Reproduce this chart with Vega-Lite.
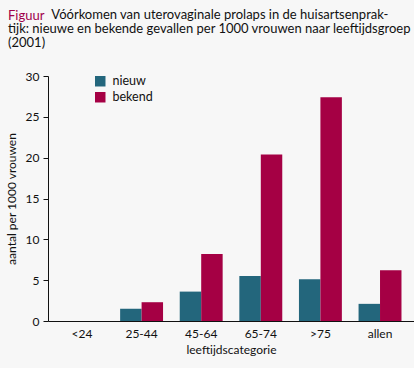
{
  "$schema": "https://vega.github.io/schema/vega-lite/v6.json",
  "autosize": {"type": "none"},
  "padding": {"left": 48, "top": 76, "right": 0, "bottom": 47},
  "width": 366,
  "height": 245,
  "background": "#f7f7f7",
  "title": {
    "text": "Figuur",
    "subtitle": ["\u2800\u2800\u2800\u2800 Vóórkomen van uterovaginale prolaps in de huisartsenprak-", "tijk: nieuwe en bekende gevallen per 1000 vrouwen naar leeftijdsgroep", "(2001)"],
    "anchor": "start",
    "frame": "group",
    "dx": -40,
    "color": "#a0004a",
    "font": "Lato",
    "fontSize": 13,
    "fontWeight": "normal",
    "lineHeight": 14,
    "subtitleColor": "#111111",
    "subtitleFont": "Lato",
    "subtitleFontSize": 13,
    "subtitleLineHeight": 14,
    "subtitlePadding": -14,
    "offset": 19
  },
  "data": {
    "values": [
      {"cat": "<24", "type": "nieuw", "value": 0},
      {"cat": "<24", "type": "bekend", "value": 0},
      {"cat": "25-44", "type": "nieuw", "value": 1.5},
      {"cat": "25-44", "type": "bekend", "value": 2.3},
      {"cat": "45-64", "type": "nieuw", "value": 3.6},
      {"cat": "45-64", "type": "bekend", "value": 8.2},
      {"cat": "65-74", "type": "nieuw", "value": 5.5},
      {"cat": "65-74", "type": "bekend", "value": 20.4},
      {"cat": ">75", "type": "nieuw", "value": 5.1},
      {"cat": ">75", "type": "bekend", "value": 27.4},
      {"cat": "allen", "type": "nieuw", "value": 2.1},
      {"cat": "allen", "type": "bekend", "value": 6.2}
    ]
  },
  "mark": {"type": "bar"},
  "encoding": {
    "x": {
      "field": "cat", "type": "nominal",
      "sort": ["<24", "25-44", "45-64", "65-74", ">75", "allen"],
      "scale": {"paddingInner": 0.28, "paddingOuter": 0.21},
      "axis": {"title": "leeftijdscategorie", "labelAngle": 0, "ticks": false, "labelPadding": 7, "titlePadding": 5}
    },
    "xOffset": {"field": "type", "type": "nominal", "sort": ["nieuw", "bekend"], "scale": {"paddingInner": 0, "paddingOuter": 0}},
    "y": {
      "field": "value", "type": "quantitative",
      "scale": {"domain": [0, 30]},
      "axis": {"title": "aantal per 1000 vrouwen", "values": [0, 5, 10, 15, 20, 25, 30], "grid": false, "tickSize": 5, "labelPadding": 4, "titlePadding": 7}
    },
    "color": {
      "field": "type", "type": "nominal",
      "sort": ["nieuw", "bekend"],
      "scale": {"domain": ["nieuw", "bekend"], "range": ["#23667c", "#a50044"]},
      "legend": {"title": null, "orient": "none", "legendX": 46, "legendY": -1, "symbolType": "square", "symbolSize": 110, "symbolStrokeWidth": 0, "labelFontSize": 12.5, "labelFont": "Lato", "labelColor": "#111111", "rowPadding": 3, "labelOffset": 6}
    }
  },
  "config": {
    "view": {"stroke": null},
    "axis": {
      "domainColor": "#111111", "tickColor": "#111111", "labelColor": "#111111", "titleColor": "#111111",
      "labelFont": "Lato", "titleFont": "Lato", "labelFontSize": 12, "titleFontSize": 12, "titleFontWeight": "normal"
    }
  }
}
